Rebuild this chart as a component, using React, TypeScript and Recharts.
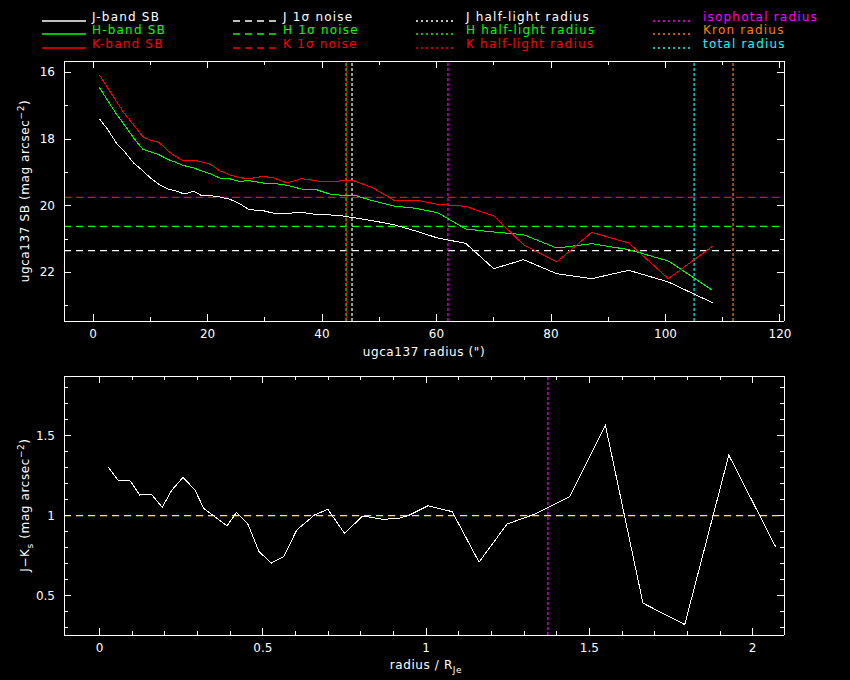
import React from 'react';
import { LineChart, Line, XAxis, YAxis, ReferenceLine } from 'recharts';

// surface brightness profiles (radius in arcsec, mag arcsec^-2)
const radius = [1.1, 2.5, 4.2, 5.5, 7.1, 8.7, 9.9, 11.5, 13.2, 14.4, 15.9, 17.6, 18.9, 20.5, 22.1, 23.8, 25.5, 27.3, 29.7, 31.6, 33.9, 36.4, 39.2, 41.5, 42.9, 45.5, 48.8, 52.5, 56.4, 60.2, 65.1, 70.0, 75.2, 81.0, 87.1, 93.6, 100.5, 108.2];
const jSB = [17.39, 17.7, 18.15, 18.38, 18.72, 18.95, 19.15, 19.36, 19.51, 19.55, 19.65, 19.57, 19.69, 19.7, 19.74, 19.8, 19.93, 20.12, 20.15, 20.23, 20.23, 20.2, 20.27, 20.28, 20.29, 20.36, 20.45, 20.57, 20.76, 20.97, 21.13, 21.89, 21.62, 22.04, 22.19, 21.94, 22.29, 22.91];
const hSB = [16.45, 16.83, 17.28, 17.58, 17.97, 18.31, 18.38, 18.47, 18.62, 18.7, 18.8, 18.87, 18.95, 19.04, 19.17, 19.19, 19.27, 19.25, 19.32, 19.33, 19.39, 19.5, 19.53, 19.66, 19.68, 19.68, 19.85, 20.01, 20.08, 20.21, 20.7, 20.79, 20.87, 21.27, 21.14, 21.32, 21.66, 22.54];
const kSB = [16.07, 16.45, 16.9, 17.24, 17.58, 17.93, 18.03, 18.1, 18.37, 18.52, 18.66, 18.64, 18.68, 18.76, 18.95, 19.07, 19.16, 19.19, 19.12, 19.17, 19.32, 19.19, 19.26, 19.26, 19.26, 19.25, 19.46, 19.83, 19.83, 19.96, 20.02, 20.31, 21.17, 21.69, 20.8, 21.12, 22.19, 21.22];

// 1 sigma noise levels and characteristic radii
const jNoise = 21.35;
const hNoise = 20.62;
const kNoise = 19.75;
const jHalfLight = 45.24;
const hHalfLight = 44.2;
const kHalfLight = 44.35;
const isophotalRadius = 62.0;
const kronRadius = 111.8;
const totalRadius = 105.0;

// J-Ks colour profile against radius / R_Je
const jkRatio = [0.026, 0.056, 0.092, 0.123, 0.158, 0.192, 0.22, 0.255, 0.291, 0.319, 0.352, 0.39, 0.419, 0.454, 0.488, 0.526, 0.564, 0.604, 0.658, 0.699, 0.75, 0.806, 0.868, 0.919, 0.949, 1.006, 1.08, 1.162, 1.248, 1.332, 1.44, 1.549, 1.664, 1.792, 1.927, 2.07];
const jkColor = [1.305, 1.222, 1.222, 1.129, 1.135, 1.052, 1.156, 1.239, 1.164, 1.046, 0.994, 0.936, 1.019, 0.948, 0.776, 0.704, 0.745, 0.911, 1.004, 1.04, 0.89, 0.998, 0.977, 0.984, 1.004, 1.062, 1.025, 0.71, 0.948, 1.009, 1.118, 1.565, 0.454, 0.32, 1.378, 0.807];
const jkIsophotal = 1.373;

// ticks
const sbXTicks = [0, 10, 20, 30, 40, 50, 60, 70, 80, 90, 100, 110, 120];
const sbYTicks = [16, 17, 18, 19, 20, 21, 22, 23];
const jkXTicks = [0, 0.1, 0.2, 0.3, 0.4, 0.5, 0.6, 0.7, 0.8, 0.9, 1, 1.1, 1.2, 1.3, 1.4, 1.5, 1.6, 1.7, 1.8, 1.9, 2];
const jkYTicks = [0.3, 0.4, 0.5, 0.6, 0.7, 0.8, 0.9, 1, 1.1, 1.2, 1.3, 1.4, 1.5, 1.6, 1.7, 1.8];

const FONT = '"DejaVu Sans", sans-serif';
const DASH = '7 5';
const DOT = '3 2';
const CRISP = 'crispEdges';

const sbData = radius.map((r, i) => ({ r, J: jSB[i], H: hSB[i], K: kSB[i] }));
const jkData = jkRatio.map((x, i) => ({ x, jk: jkColor[i] }));

const isMajor = (v: number, step: number) => Math.abs(v / step - Math.round(v / step)) < 1e-6;

// inward PGPLOT-style tick, label only on majors
const makeTick = (side: string, step: number) => (props: any) => {
  const { x, y, payload } = props;
  const v = payload.value;
  const major = isMajor(v, step);
  const len = major ? 7 : 4;
  let line;
  let label = null;
  if (side === 'bottom') {
    line = <line x1={x} y1={y} x2={x} y2={y - len} stroke="#fff" shapeRendering={CRISP} />;
    if (major) label = <text x={x} y={y + 17} textAnchor="middle" fill="#fff" fontSize={12} fontFamily={FONT}>{String(v)}</text>;
  } else if (side === 'top') {
    line = <line x1={x} y1={y} x2={x} y2={y + len} stroke="#fff" shapeRendering={CRISP} />;
  } else if (side === 'left') {
    line = <line x1={x} y1={y} x2={x + len} y2={y} stroke="#fff" shapeRendering={CRISP} />;
    if (major) label = <text x={x - 9} y={y + 4} textAnchor="end" fill="#fff" fontSize={12} fontFamily={FONT}>{String(v)}</text>;
  } else {
    line = <line x1={x} y1={y} x2={x - len} y2={y} stroke="#fff" shapeRendering={CRISP} />;
  }
  return <g>{line}{label}</g>;
};

const axisCommon = {
  tickSize: 0,
  tickMargin: 0,
  tickLine: false,
  interval: 0 as const,
  allowDataOverflow: true,
  axisLine: { stroke: '#fff', shapeRendering: CRISP },
};

const legendRows = [
  { col: 0, dash: undefined, color: '#ffffff', text: 'J-band SB' },
  { col: 0, dash: undefined, color: '#00ff00', text: 'H-band SB' },
  { col: 0, dash: undefined, color: '#ff0000', text: 'K-band SB' },
  { col: 1, dash: DASH, color: '#ffffff', text: 'J 1σ noise' },
  { col: 1, dash: DASH, color: '#00ff00', text: 'H 1σ noise' },
  { col: 1, dash: DASH, color: '#ff0000', text: 'K 1σ noise' },
  { col: 2, dash: '2 3', color: '#ffffff', text: 'J half-light radius' },
  { col: 2, dash: '2 3', color: '#00ff00', text: 'H half-light radius' },
  { col: 2, dash: '2 3', color: '#ff0000', text: 'K half-light radius' },
  { col: 3, dash: '2 3', color: '#ff00ff', text: 'isophotal radius' },
  { col: 3, dash: '2 3', color: '#ff8000', text: 'Kron radius' },
  { col: 3, dash: '2 3', color: '#00ffff', text: 'total radius' },
];
const legendCols = [
  { x1: 42, x2: 86, tx: 92 },
  { x1: 233, x2: 277, tx: 283 },
  { x1: 416, x2: 456, tx: 466 },
  { x1: 653, x2: 692, tx: 703 },
];

const Legend = () => (
  <g fontFamily={FONT} fontSize={12}>
    {legendRows.map((row, i) => {
      const c = legendCols[row.col];
      const y = 20.5 + (i % 3) * 13.8;
      return (
        <g key={row.text}>
          <line x1={c.x1} x2={c.x2} y1={Math.round(y)} y2={Math.round(y)} stroke={row.color} strokeWidth={1.3} strokeDasharray={row.dash} />
          <text x={c.tx} y={y} fill={row.color} letterSpacing={1.2}>{row.text}</text>
        </g>
      );
    })}
  </g>
);

const App: React.FC = () => {
  return (
    <div style={{ position: 'absolute', left: 0, top: 0, width: 850, height: 680, background: '#000', overflow: 'hidden' }}>
      <div style={{ position: 'absolute', left: 0, top: 0 }}>
        <LineChart width={850} height={345} data={sbData} margin={{ top: 51, right: 56, bottom: 4, left: 24 }}>
          <XAxis xAxisId={0} type="number" dataKey="r" domain={[-5.07, 120.7]} ticks={sbXTicks} height={20} tick={makeTick('bottom', 20)} {...axisCommon} />
          <XAxis xAxisId="top" orientation="top" type="number" dataKey="r" domain={[-5.07, 120.7]} ticks={sbXTicks} height={10} tick={makeTick('top', 20)} {...axisCommon} />
          <YAxis yAxisId={0} type="number" reversed domain={[15.66, 23.46]} ticks={sbYTicks} width={40} tick={makeTick('left', 2)} {...axisCommon} />
          <YAxis yAxisId="right" orientation="right" type="number" reversed domain={[15.66, 23.46]} ticks={sbYTicks} width={10} tick={makeTick('right', 2)} {...axisCommon} />
          <ReferenceLine y={kNoise} stroke="#ff0000" strokeWidth={1.2} strokeDasharray={DASH} />
          <ReferenceLine y={hNoise} stroke="#00ff00" strokeWidth={1.2} strokeDasharray={DASH} />
          <ReferenceLine y={jNoise} stroke="#ffffff" strokeWidth={1.2} strokeDasharray={DASH} />
          <ReferenceLine x={hHalfLight} stroke="#00ff00" strokeWidth={1.2} strokeDasharray={DOT} />
          <ReferenceLine x={kHalfLight} stroke="#ff0000" strokeWidth={1.2} strokeDasharray={DOT} strokeDashoffset={2.5} />
          <ReferenceLine x={jHalfLight} stroke="#ffffff" strokeWidth={1.2} strokeDasharray={DOT} />
          <ReferenceLine x={isophotalRadius} stroke="#ff00ff" strokeWidth={1.2} strokeDasharray={DOT} />
          <ReferenceLine x={totalRadius} stroke="#00ffff" strokeWidth={1.2} strokeDasharray={DOT} />
          <ReferenceLine x={kronRadius} stroke="#ff8000" strokeWidth={1.2} strokeDasharray={DOT} />
          <Line type="linear" dataKey="J" stroke="#ffffff" strokeWidth={1} dot={false} shapeRendering={CRISP} isAnimationActive={false} />
          <Line type="linear" dataKey="H" stroke="#00ff00" strokeWidth={1} dot={false} shapeRendering={CRISP} isAnimationActive={false} />
          <Line type="linear" dataKey="K" stroke="#ff0000" strokeWidth={1} dot={false} shapeRendering={CRISP} isAnimationActive={false} />
        </LineChart>
      </div>
      <div style={{ position: 'absolute', left: 0, top: 340 }}>
        <LineChart width={850} height={340} data={jkData} margin={{ top: 26, right: 56, bottom: 25, left: 24 }}>
          <XAxis xAxisId={0} type="number" dataKey="x" domain={[-0.109, 2.096]} ticks={jkXTicks} height={20} tick={makeTick('bottom', 0.5)} {...axisCommon} />
          <XAxis xAxisId="top" orientation="top" type="number" dataKey="x" domain={[-0.109, 2.096]} ticks={jkXTicks} height={10} tick={makeTick('top', 0.5)} {...axisCommon} />
          <YAxis yAxisId={0} type="number" domain={[0.255, 1.872]} ticks={jkYTicks} width={40} tick={makeTick('left', 0.5)} {...axisCommon} />
          <YAxis yAxisId="right" orientation="right" type="number" domain={[0.255, 1.872]} ticks={jkYTicks} width={10} tick={makeTick('right', 0.5)} {...axisCommon} />
          <ReferenceLine y={1} stroke="#ffff00" strokeWidth={1.2} strokeDasharray={DASH} />
          <ReferenceLine x={jkIsophotal} stroke="#ff00ff" strokeWidth={1.2} strokeDasharray={DOT} />
          <Line type="linear" dataKey="jk" stroke="#ffffff" strokeWidth={1} dot={false} shapeRendering={CRISP} isAnimationActive={false} />
        </LineChart>
      </div>
      <svg width={850} height={680} style={{ position: 'absolute', left: 0, top: 0, pointerEvents: 'none' }}>
        <Legend />
        <g fontFamily={FONT} fontSize={12} fill="#fff" letterSpacing={0.6}>
          <text x={424} y={356} textAnchor="middle">ugca137 radius (")</text>
          <text transform="translate(29,191) rotate(-90)" textAnchor="middle">
            ugca137 SB (mag arcsec<tspan dy={-5} fontSize={9}>−2</tspan><tspan dy={5}>)</tspan>
          </text>
          <text x={426} y={669} textAnchor="middle">
            radius / R<tspan dy={4} fontSize={9}>Je</tspan>
          </text>
          <text transform="translate(29,505) rotate(-90)" textAnchor="middle">
            J−K<tspan dy={4} fontSize={9}>s</tspan><tspan dy={-4}> (mag arcsec</tspan><tspan dy={-5} fontSize={9}>−2</tspan><tspan dy={5}>)</tspan>
          </text>
        </g>
      </svg>
    </div>
  );
};

export default App;
